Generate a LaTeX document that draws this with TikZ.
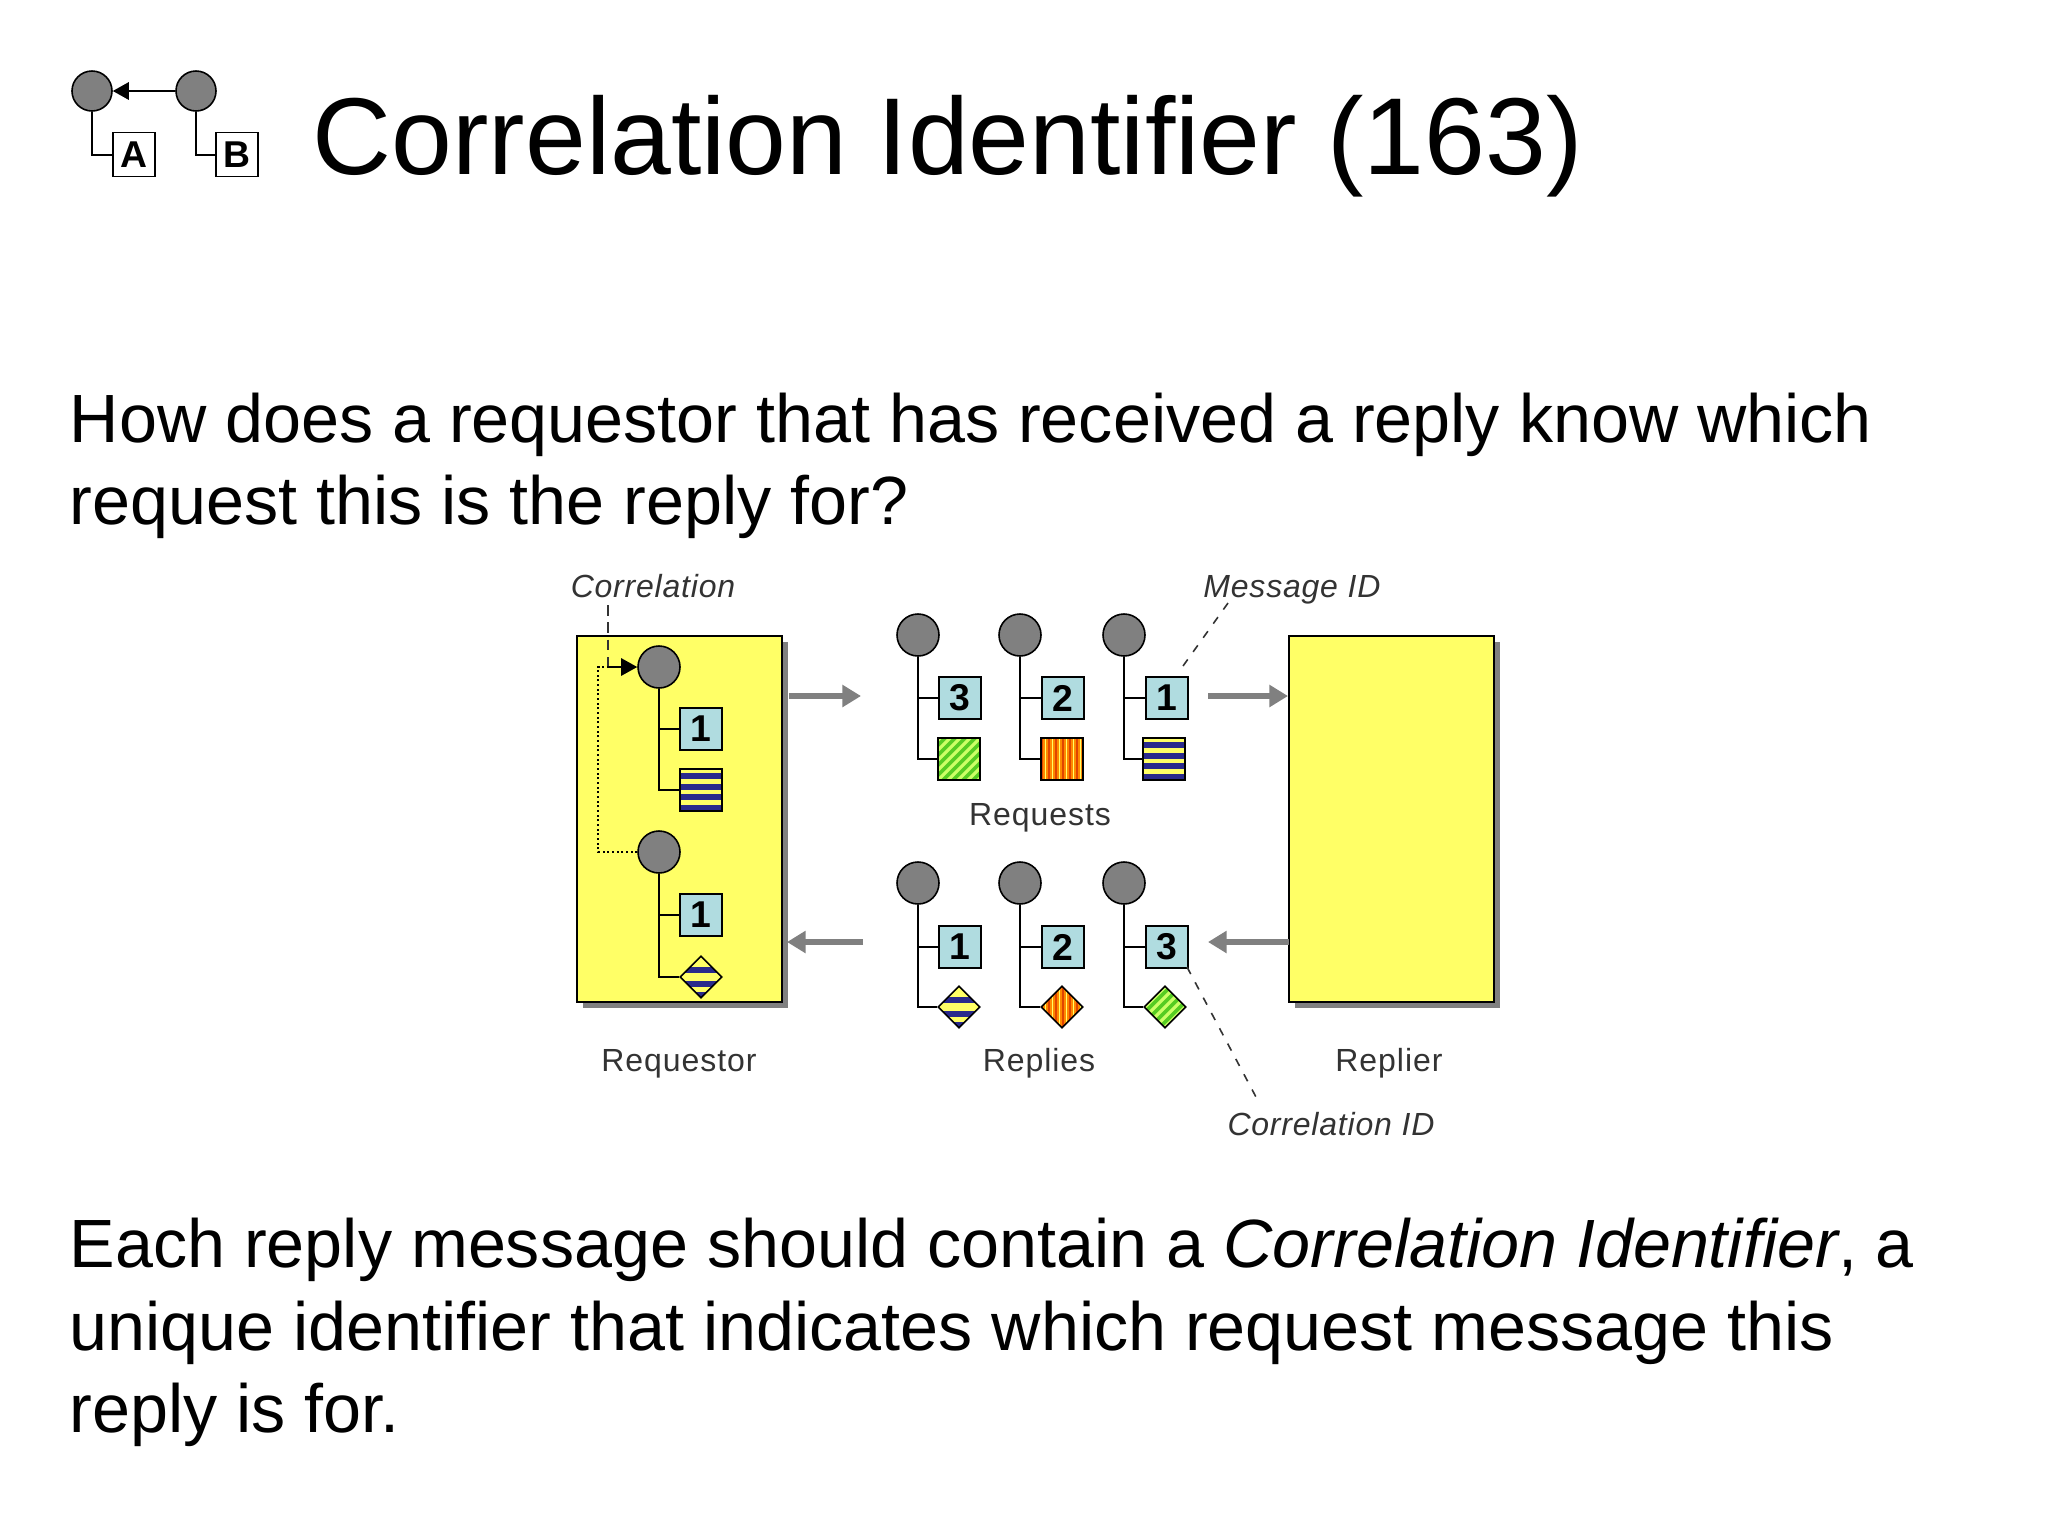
\documentclass[tikz,border=0pt]{standalone}
\usepackage{fontspec}
\setmainfont{Liberation Sans}
\newfontfamily\lblfont[LetterSpace=3]{Liberation Sans}
\newfontfamily\lblitfont[LetterSpace=2.5,ItalicFont={Liberation Sans Italic}]{Liberation Sans}
\usetikzlibrary{arrows.meta,shapes.geometric}
\definecolor{msgblue}{HTML}{B0DCE0}
\definecolor{hdr}{HTML}{808080}
\definecolor{yel}{HTML}{FFFF66}
\definecolor{navy}{HTML}{2A2A8C}
\definecolor{grn}{HTML}{55CC22}
\definecolor{lgrn}{HTML}{CCFF66}
\definecolor{org}{HTML}{FF8800}
\definecolor{redo}{HTML}{E04400}
\tikzset{
  x=0.75pt,y=-0.75pt,
  hdrc/.style={circle,draw=black,fill=hdr,line width=1.2pt,minimum size=31.5pt,inner sep=0pt},
  idbox/.style={rectangle,draw=black,fill=msgblue,line width=1.4pt,minimum size=31.5pt,inner sep=0pt,font=\bfseries\fontsize{28}{28}\selectfont},
  iconbox/.style={rectangle,draw=black,fill=white,line width=1.4pt,minimum width=31.5pt,minimum height=33pt,inner sep=0pt,font=\bfseries\fontsize{28}{28}\selectfont},
  stem/.style={draw=black,line width=1.5pt},
  actor/.style={rectangle,draw=black,fill=yel,line width=1.7pt,minimum width=153.75pt,minimum height=274.5pt,inner sep=0pt},
  actshadow/.style={rectangle,fill=hdr,minimum width=153.75pt,minimum height=274.5pt,inner sep=0pt},
  flow/.style={draw=hdr,line width=4.2pt,-{Triangle[length=14pt,width=16pt]}},
  callout/.style={draw=black!80,line width=1.2pt,dash pattern=on 6pt off 7pt},
  lbl/.style={text=black!80,font=\lblfont\fontsize{24}{24}\selectfont,anchor=center,inner sep=0pt},
  lblit/.style={text=black!80,font=\lblitfont\itshape\fontsize{24}{24}\selectfont,anchor=center,inner sep=0pt},
  body/.style={anchor=base west,inner sep=0pt,font=\fontsize{51.2}{51.2}\selectfont},
  hstripes/.style={path picture={\begin{scope}[shift={(path picture bounding box.center)}]
      \foreach \yy in {-14,-3,7,18} \fill[navy] (-30,\yy-2.6) rectangle (30,\yy+2.6);
    \end{scope}}},
  dstripes/.style={path picture={\begin{scope}[shift={(path picture bounding box.center)}]
      \foreach \yy in {-7,7,18} \fill[navy] (-30,\yy-2.6) rectangle (30,\yy+2.6);
    \end{scope}}},
  gstripes/.style={path picture={\begin{scope}[shift={(path picture bounding box.center)}]
      \foreach \dd in {-40,-30,...,40} \draw[lgrn,line width=2.4pt] (\dd-30,30) -- (\dd+30,-30);
    \end{scope}}},
  gdstripes/.style={path picture={\begin{scope}[shift={(path picture bounding box.center)}]
      \foreach \dd in {-20,-10,...,20} \draw[lgrn,line width=2.4pt] (\dd-30,30) -- (\dd+30,-30);
    \end{scope}}},
  ostripes/.style={path picture={\begin{scope}[shift={(path picture bounding box.center)}]
      \foreach \xx in {-20,-13,...,22} \fill[redo] (\xx-1.4,-30) rectangle (\xx+1.4,30);
      \foreach \xx in {-16.5,-9.5,...,22} \fill[yel] (\xx-.9,-30) rectangle (\xx+.9,30);
    \end{scope}}},
  bodysq/.style={rectangle,draw=black,line width=1.4pt,minimum size=31.5pt,inner sep=0pt},
  bodyd/.style={diamond,draw=black,line width=1.2pt,minimum size=31.5pt,inner sep=0pt},
}
\begin{document}
\begin{tikzpicture}
\useasboundingbox[fill=white] (0,0) rectangle (2048,1536);
% icon
\node[hdrc,minimum size=30pt] (ic1) at (92,91) {};
\node[hdrc,minimum size=30pt] (ic2) at (196,91) {};
\node[iconbox] (ia) at (134,154.5) {A};
\node[iconbox] (ib) at (237,154.5) {B};
\draw[stem,-{Triangle[length=12pt,width=13pt]}] (ic2) -- (ic1);
\draw[stem] (ic1.south) |- (ia.west);
\draw[stem] (ic2.south) |- (ib.west);
% text
\node[body,font=\fontsize{82}{82}\selectfont] (title) at (312.5,174) {Correlation Identifier (163)};
\node[body] (q1) at (69.5,442) {How does a requestor that has received a reply know which};
\node[body] (q2) at (69.5,524) {request this is the reply for?};
\node[body] (a1) at (69.5,1267) {Each reply message should contain a \textit{Correlation Identifier}, a};
\node[body] (a2) at (69.5,1350) {unique identifier that indicates which request message this};
\node[body] (a3) at (69.5,1432) {reply is for.};
% actors
\node[actshadow] (s1) at (685.5,825) {};
\node[actshadow] (s2) at (1397.5,825) {};
\node[actor] (requestor) at (679.5,819) {};
\node[actor] (replier) at (1391.5,819) {};
% requestor messages
\node[hdrc] (rc1) at (659,667) {};
\node[idbox] (rb1) at (701,729) {1};
\node[bodysq,fill=yel,hstripes] (rs1) at (701,790) {};
\draw[stem] (rc1.south) |- (rb1.west);
\draw[stem] (rc1.south) |- (rs1.west);
\node[hdrc] (rc2) at (659,852) {};
\node[idbox] (rb2) at (701,915) {1};
\node[bodyd,fill=yel,dstripes] (rd2) at (701,977) {};
\draw[stem] (rc2.south) |- (rb2.west);
\draw[stem] (rc2.south) |- (rd2.west);
% labels
\node[lblit] (lcorr) at (653,586) {Correlation};
\node[lblit] (lmsg) at (1292,590) {Message ID};
\node[lblit] (lcid) at (1331,1124) {Correlation ID};
\node[lbl] (lreq) at (679,1064) {Requestor};
\node[lbl] (lreqs) at (1040,818) {Requests};
\node[lbl] (lrep) at (1039,1063) {Replies};
\node[lbl] (lrepr) at (1389,1063) {Replier};
% correlation link
\coordinate (ctop) at (608,605);
\coordinate (cjoin) at (608,667);
\coordinate (dtl) at (598,667);
\coordinate (dbl) at (598,852);
\draw[callout,dash pattern=on 8pt off 5pt] (ctop) -- (cjoin);
\draw[draw=black,line width=1.2pt,-{Triangle[length=12pt,width=13pt]}] (cjoin) -- (rc1.west);
\draw[black,line width=1.3pt,dash pattern=on 1.5pt off 2pt] (rc2.west) -- (dbl) -- (dtl) -- (cjoin);
% request messages
\node[hdrc] (c3) at (918,635) {};
\node[hdrc] (c2) at (1020,635) {};
\node[hdrc] (c1) at (1124,635) {};
\node[idbox] (b3) at (960,698) {3};
\node[idbox] (b2) at (1063,698) {2};
\node[idbox] (b1) at (1167,698) {1};
\node[bodysq,fill=grn,gstripes] (p3) at (959,759) {};
\node[bodysq,fill=org,ostripes] (p2) at (1062,759) {};
\node[bodysq,fill=yel,hstripes] (p1) at (1164,759) {};
\foreach \n in {3,2,1} {
  \draw[stem] (c\n.south) |- (b\n.west);
  \draw[stem] (c\n.south) |- (p\n.west);
}
% reply messages
\node[hdrc] (e1) at (918,883) {};
\node[hdrc] (e2) at (1020,883) {};
\node[hdrc] (e3) at (1124,883) {};
\node[idbox] (f1) at (960,947) {1};
\node[idbox] (f2) at (1063,947) {2};
\node[idbox] (f3) at (1167,947) {3};
\node[bodyd,fill=yel,dstripes] (g1) at (959,1007) {};
\node[bodyd,fill=org,ostripes] (g2) at (1062,1007) {};
\node[bodyd,fill=grn,gdstripes] (g3) at (1165,1007) {};
\foreach \n in {1,2,3} {
  \draw[stem] (e\n.south) |- (f\n.west);
  \draw[stem] (e\n.south) |- (g\n.west);
}
% callouts
\coordinate (mtop) at (1228,603);
\coordinate (mbot) at (1178,673);
\coordinate (ctip) at (1256,1097);
\coordinate (cbot) at (1187,967);
\draw[callout] (mtop) -- (mbot);
\draw[callout] (cbot) -- (ctip);
% flow arrows
\coordinate (fa1) at (789,696);
\coordinate (fa2) at (861,696);
\coordinate (fb1) at (1208,696);
\coordinate (fb2) at (1288,696);
\coordinate (fc1) at (1289,942);
\coordinate (fc2) at (1208,942);
\coordinate (fd1) at (863,942);
\coordinate (fd2) at (787,942);
\draw[flow] (fa1) -- (fa2);
\draw[flow] (fb1) -- (fb2);
\draw[flow] (fc1) -- (fc2);
\draw[flow] (fd1) -- (fd2);
\end{tikzpicture}
\end{document}
